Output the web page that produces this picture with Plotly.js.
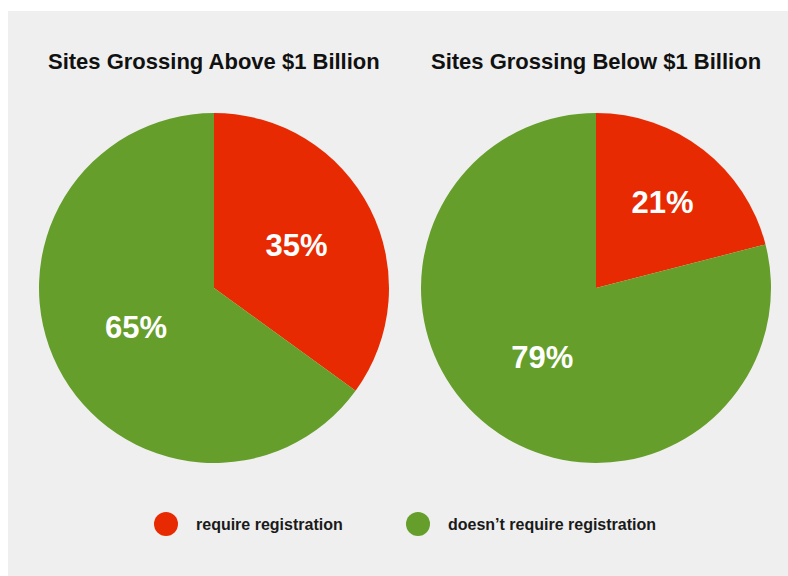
<!DOCTYPE html>
<html><head><meta charset="utf-8">
<script src="https://cdn.plot.ly/plotly-3.0.1.min.js"></script>
<style>
html,body{margin:0;padding:0;background:#ffffff;}
#chart{position:absolute;left:8px;top:11px;width:780px;height:565px;}
</style></head>
<body><div id="chart"></div>
<script>
const categories = ["require registration", "doesn\u2019t require registration"];
const aboveValues = [35, 65];
const belowValues = [21, 79];
const chartTitles = ["Sites Grossing Above $1 Billion", "Sites Grossing Below $1 Billion"];
const colors = ["#e82a02", "#659e2a"];

const W = 780, H = 565;
function px(x){return x/W;}
function py(y){return 1 - y/H;}

function pieTrace(vals, cx){
  const r = 175, cy = 277;
  return {
    type: "pie", labels: categories, values: vals, sort: false,
    direction: "clockwise", rotation: 0,
    marker: {colors: colors, line: {width: 0}},
    texttemplate: "%{value}%", textposition: "inside",
    insidetextorientation: "horizontal",
    textfont: {family: "Liberation Sans, Arial, sans-serif", size: 31, color: "#ffffff", weight: "bold"},
    hoverinfo: "none", showlegend: false,
    domain: {x: [px(cx - r), px(cx + r)], y: [py(cy + r), py(cy - r)]}
  };
}

const data = [pieTrace(aboveValues, 206), pieTrace(belowValues, 588)];

const titleFont = {family: "Liberation Sans, Arial, sans-serif", size: 22, color: "#111111", weight: "bold"};
const legFont = {family: "Liberation Sans, Arial, sans-serif", size: 16, color: "#1a1a1a", weight: "bold"};
const annotations = [
  {text: chartTitles[0], x: px(206), y: py(51), xref: "paper", yref: "paper", showarrow: false, xanchor: "center", yanchor: "middle", font: titleFont},
  {text: chartTitles[1], x: px(588), y: py(51), xref: "paper", yref: "paper", showarrow: false, xanchor: "center", yanchor: "middle", font: titleFont},
  {text: categories[0], x: px(186), y: py(513), xref: "paper", yref: "paper", showarrow: false, xanchor: "left", yanchor: "middle", font: legFont},
  {text: categories[1], x: px(438), y: py(513), xref: "paper", yref: "paper", showarrow: false, xanchor: "left", yanchor: "middle", font: legFont}
];
const shapes = [
  {type: "circle", xref: "paper", yref: "paper", x0: px(158-12), x1: px(158+12), y0: py(513+12), y1: py(513-12), fillcolor: colors[0], line: {width: 0}},
  {type: "circle", xref: "paper", yref: "paper", x0: px(410-12), x1: px(410+12), y0: py(513+12), y1: py(513-12), fillcolor: colors[1], line: {width: 0}}
];

const layout = {
  width: W, height: H, margin: {l: 0, r: 0, t: 0, b: 0},
  paper_bgcolor: "#efefef", plot_bgcolor: "#efefef",
  showlegend: false, annotations: annotations, shapes: shapes
};
Plotly.newPlot("chart", data, layout, {displayModeBar: false, staticPlot: true});
</script></body></html>
